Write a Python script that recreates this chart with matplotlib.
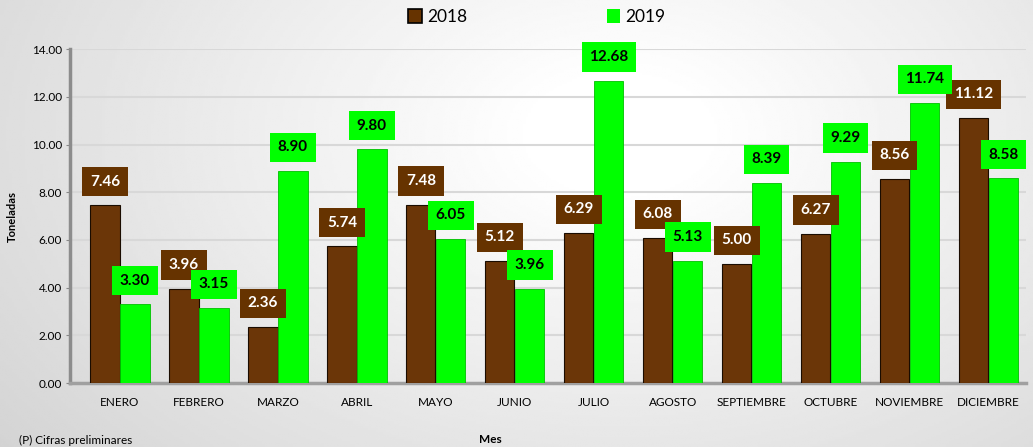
import matplotlib

matplotlib.use("Agg")
import matplotlib.pyplot as plt
import numpy as np

plt.rcParams["font.family"] = ["Lato", "DejaVu Sans"]

meses = ["ENERO", "FEBRERO", "MARZO", "ABRIL", "MAYO", "JUNIO", "JULIO",
         "AGOSTO", "SEPTIEMBRE", "OCTUBRE", "NOVIEMBRE", "DICIEMBRE"]
v2018 = [7.46, 3.96, 2.36, 5.74, 7.48, 5.12, 6.29, 6.08, 5.00, 6.27, 8.56, 11.12]
v2019 = [3.30, 3.15, 8.90, 9.80, 6.05, 3.96, 12.68, 5.13, 8.39, 9.29, 11.74, 8.58]
yticks = [0, 2, 4, 6, 8, 10, 12, 14]

BROWN = "#6b3608"
BROWN_BOX = "#663300"
GREEN = "#00ff00"

fig = plt.figure(figsize=(10.33, 4.47), dpi=100)

# fondo degradado
bg = fig.add_axes([0, 0, 1, 1], zorder=-10)
yy, xx = np.mgrid[0:1:200j, 0:1:400j]
r = np.sqrt(((xx - 0.6) / 0.8) ** 2 + ((yy - 0.7) / 1.2) ** 2)
bg.imshow(np.clip(1.02 - 0.2 * r, 0.8, 1), cmap="gray", vmin=0, vmax=1,
          aspect="auto", extent=[0, 1, 0, 1], origin="lower")
bg.axis("off")

ax = fig.add_axes([0.068, 0.143, 0.925, 0.747])
ax.patch.set_alpha(0)
x = np.arange(len(meses))
w = 0.37
b1 = ax.bar(x - 0.19, v2018, w, color=BROWN, edgecolor="#1a0c00", lw=0.8, zorder=3)
b2 = ax.bar(x + 0.19, v2019, w, color=GREEN, edgecolor="#00c000", lw=0.6, zorder=3)

for rect, v in zip(b1, v2018):
    ax.annotate(f"{v:.2f}", (rect.get_x() + rect.get_width() / 2, v),
                xytext=(0, 17), textcoords="offset points", ha="center", va="center",
                color="white", fontsize=11, fontweight="bold", zorder=5,
                bbox=dict(boxstyle="square,pad=0.5", fc=BROWN_BOX, ec="none"))
for rect, v in zip(b2, v2019):
    ax.annotate(f"{v:.2f}", (rect.get_x() + rect.get_width() / 2, v),
                xytext=(0, 17), textcoords="offset points", ha="center", va="center",
                color="black", fontsize=11, fontweight="bold", zorder=5,
                bbox=dict(boxstyle="square,pad=0.5", fc=GREEN, ec="none"))

ax.set_ylim(0, 14)
ax.set_xlim(-0.63, 11.47)
ax.set_yticks(yticks)
ax.set_yticklabels([f"{t:.2f}" for t in yticks], fontsize=8.5)
ax.set_xticks(x)
ax.set_xticklabels(meses, fontsize=8.5)
ax.tick_params(axis="x", length=0, pad=10)
ax.tick_params(axis="y", length=3, color="#888888", pad=3)
ax.grid(axis="y", color="#d8d8d8", lw=1.5, zorder=0)
for s in ("top", "right"):
    ax.spines[s].set_visible(False)
ax.spines["left"].set_color("#8c8c8c")
ax.spines["left"].set_linewidth(2.5)
ax.spines["bottom"].set_color("#a0a0a0")
ax.spines["bottom"].set_linewidth(2.5)

ax.set_ylabel("Toneladas", fontsize=8, fontweight="bold", labelpad=10)
fig.text(0.475, 0.005, "Mes", fontsize=8.5, fontweight="bold", ha="center", va="bottom")
fig.text(0.018, 0.003, "(P) Cifras preliminares", fontsize=8.5, ha="left", va="bottom")

h1 = plt.Rectangle((0, 0), 1, 1, fc=BROWN_BOX, ec="black", lw=1.2)
h2 = plt.Rectangle((0, 0), 1, 1, fc=GREEN, ec="none")
fig.legend([h1, h2], ["2018", "2019"], loc="center", bbox_to_anchor=(0.52, 0.962),
           ncol=2, frameon=False, fontsize=12.5, handlelength=0.8, handleheight=0.8,
           handletextpad=0.3, columnspacing=8)

fig.savefig("out.png", dpi=100)
